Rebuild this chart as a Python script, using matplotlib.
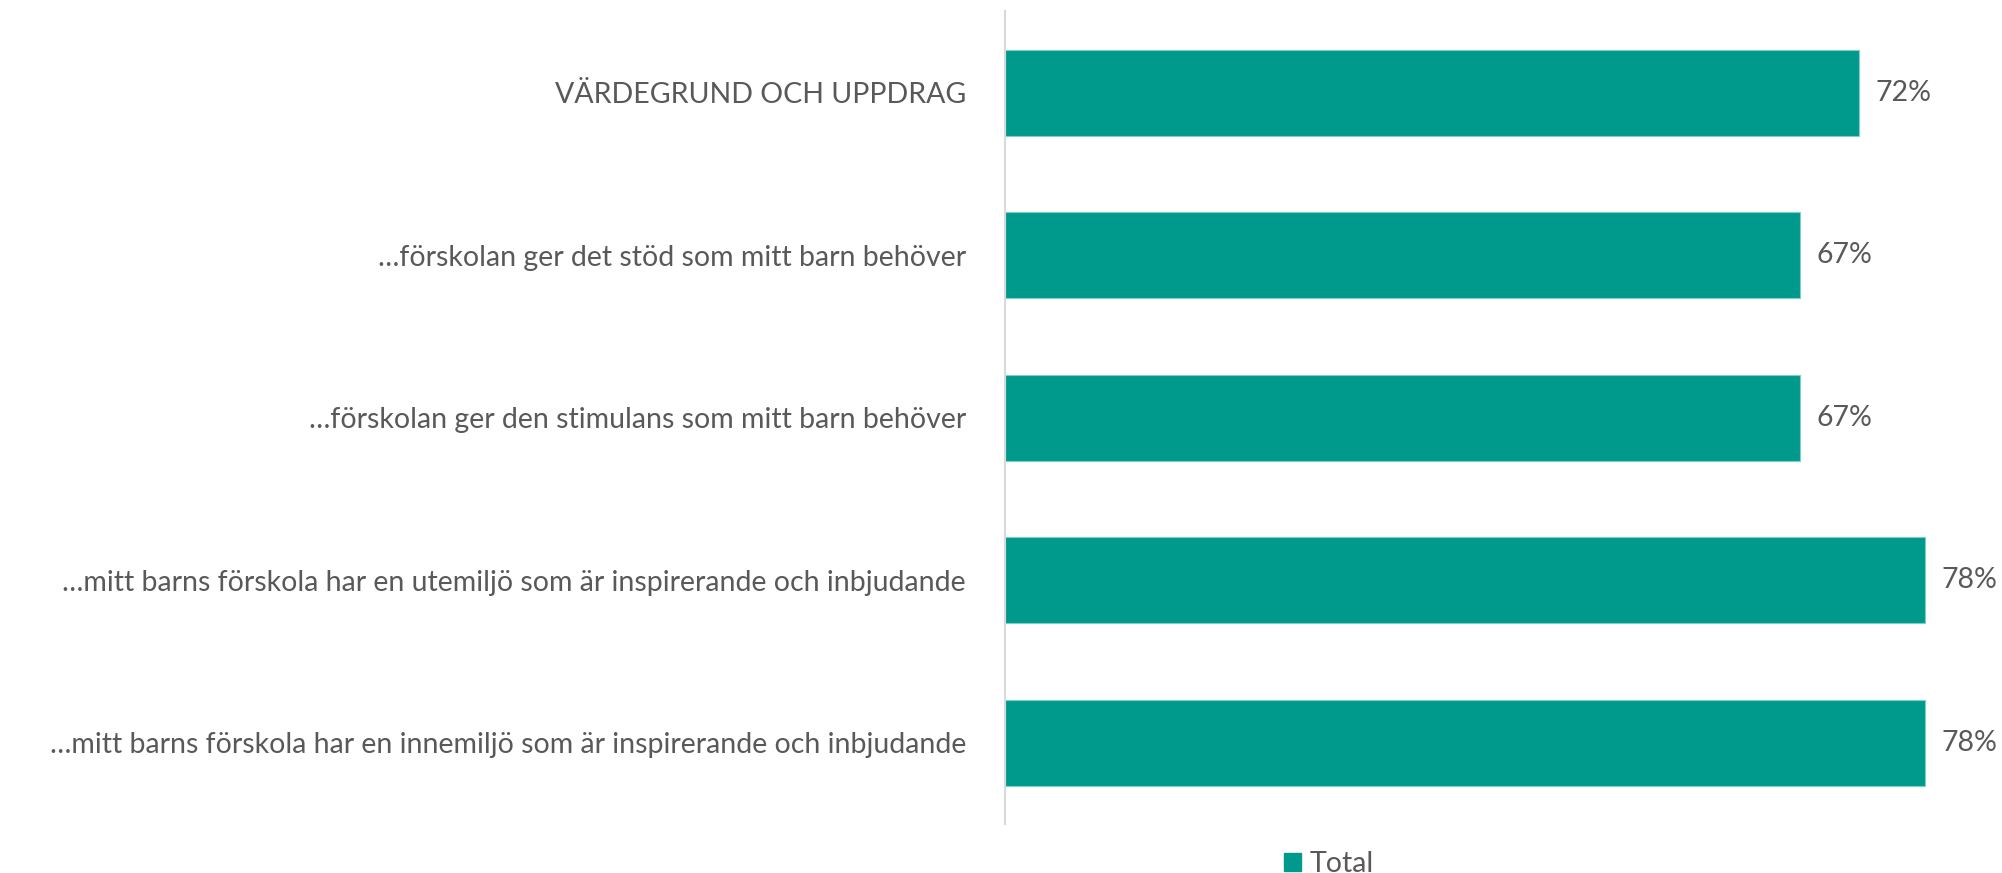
import matplotlib
matplotlib.use('Agg')
import matplotlib.pyplot as plt
from matplotlib.patches import Patch

# survey statements (top to bottom) and share agreeing
categories = [
    'VÄRDEGRUND OCH UPPDRAG',
    '…förskolan ger det stöd som mitt barn behöver',
    '…förskolan ger den stimulans som mitt barn behöver',
    '…mitt barns förskola har en utemiljö som är inspirerande och inbjudande',
    '…mitt barns förskola har en innemiljö som är inspirerande och inbjudande',
]
# (labels show them rounded)
values = [0.724, 0.674, 0.674, 0.78, 0.78]
series_name = 'Total'

teal = '#009A8C'
text_grey = '#595959'

plt.rcParams['font.family'] = ['Lato', 'DejaVu Sans']

fig = plt.figure(figsize=(20.02, 8.73), dpi=100)
ax = fig.add_axes([0.502, 0.056, 0.498, 0.931])

y = list(range(len(categories)))
ax.barh(y, values, height=0.53, color=teal, edgecolor='#7FCFC8', linewidth=0.8)
ax.set_ylim(len(categories) - 0.5, -0.5)
ax.set_xlim(0, 0.845)

# value labels next to bars
for yi, v in zip(y, values):
    ax.text(v + 0.014, yi, f'{v:.0%}', va='center', ha='left',
            fontsize=20.5, color=text_grey)

ax.set_yticks(y)
ax.set_yticklabels(categories, fontsize=20.5, color=text_grey)
ax.tick_params(axis='y', length=0, pad=28)
ax.set_xticks([])
for side in ['top', 'right', 'bottom']:
    ax.spines[side].set_visible(False)
ax.spines['left'].set_color('#D9D9D9')
ax.spines['left'].set_linewidth(1.5)

fig.legend(handles=[Patch(color=teal, label=series_name)],
           loc='center', bbox_to_anchor=(0.664, 0.01), frameon=False,
           fontsize=20.5, labelcolor=text_grey, handlelength=0.6,
           handleheight=0.6, handletextpad=0.3)

fig.savefig('out.png', dpi=100)
